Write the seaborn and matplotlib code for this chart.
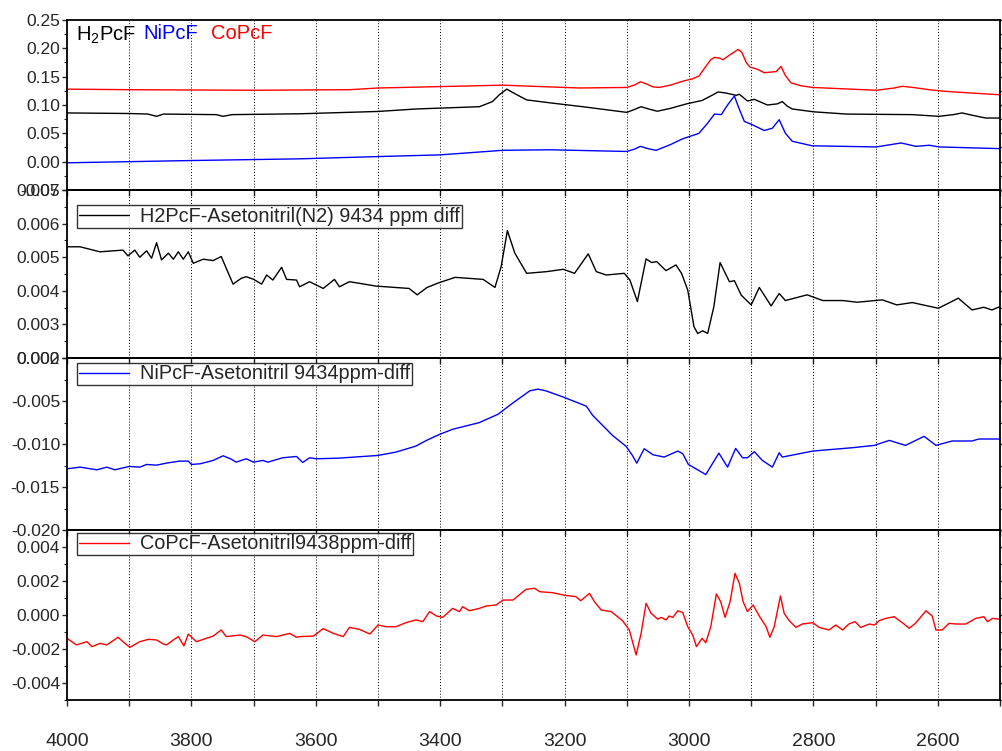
import numpy as np
import pandas as pd
import matplotlib
matplotlib.use("Agg")
import matplotlib.pyplot as plt
from matplotlib.ticker import MultipleLocator, FixedLocator, FuncFormatter
import seaborn as sns

# ---------------- data ----------------
# Panel 1: absorbance spectra (wavenumber, value)
co_wn = [4000, 3900, 3700, 3546, 3500, 3300, 3176, 3100, 3088, 3078, 3068, 3058, 3048, 3030, 3010,
         2995, 2984, 2975, 2965, 2959, 2952, 2945, 2935, 2921, 2915, 2908, 2902, 2890, 2879, 2860,
         2852, 2845, 2836, 2820, 2802, 2699, 2670, 2657, 2640, 2614, 2587, 2500]
co_val = [0.128, 0.127, 0.126, 0.127, 0.130, 0.135, 0.130, 0.131, 0.135, 0.141, 0.137, 0.132, 0.131, 0.135, 0.142,
          0.146, 0.151, 0.165, 0.180, 0.184, 0.183, 0.180, 0.188, 0.198, 0.193, 0.175, 0.167, 0.163, 0.157, 0.159,
          0.168, 0.152, 0.139, 0.134, 0.131, 0.126, 0.130, 0.133, 0.131, 0.127, 0.124, 0.118]

h2_wn = [4000, 3900, 3870, 3856, 3845, 3760, 3749, 3735, 3626, 3500, 3438, 3337, 3316, 3305, 3293, 3280,
         3261, 3225, 3171, 3100, 3088, 3077, 3065, 3051, 3030, 3004, 2979, 2965, 2953, 2940, 2924, 2919,
         2906, 2895, 2874, 2858, 2850, 2842, 2834, 2800, 2747, 2641, 2598, 2575, 2561, 2545, 2523, 2500]
h2_val = [0.086, 0.085, 0.084, 0.080, 0.084, 0.083, 0.080, 0.083, 0.0845, 0.0886, 0.093, 0.097, 0.106, 0.118, 0.128,
          0.120, 0.109, 0.104, 0.097, 0.087, 0.092, 0.097, 0.093, 0.089, 0.094, 0.102, 0.108, 0.116, 0.123, 0.121,
          0.117, 0.119, 0.107, 0.110, 0.100, 0.102, 0.106, 0.098, 0.093, 0.088, 0.084, 0.083, 0.080, 0.083, 0.086,
          0.082, 0.077, 0.077]

ni_wn = [4000, 3800, 3626, 3500, 3400, 3300, 3225, 3100, 3088, 3078, 3066, 3053, 3030, 3011, 2984,
         2970, 2959, 2948, 2938, 2927, 2920, 2911, 2898, 2879, 2866, 2855, 2845, 2834, 2802, 2699,
         2659, 2635, 2614, 2598, 2500]
ni_val = [-0.002, 0.002, 0.005, 0.009, 0.012, 0.020, 0.021, 0.018, 0.022, 0.027, 0.023, 0.020, 0.030, 0.040, 0.050,
          0.068, 0.084, 0.083, 0.100, 0.116, 0.095, 0.071, 0.065, 0.055, 0.059, 0.074, 0.050, 0.036, 0.028, 0.026,
          0.033, 0.027, 0.029, 0.026, 0.023]

# Panel 2: H2PcF difference spectrum
d1_wn = [4000, 3979, 3947, 3926, 3910, 3902, 3891, 3883, 3872, 3864, 3856, 3848, 3837, 3829, 3821, 3813,
         3805, 3797, 3781, 3765, 3752, 3744, 3733, 3720, 3712, 3701, 3687, 3679, 3669, 3655, 3647, 3631,
         3626, 3610, 3588, 3570, 3562, 3546, 3529, 3503, 3450, 3437, 3421, 3402, 3376, 3331, 3312, 3302,
         3292, 3280, 3261, 3229, 3202, 3184, 3162, 3149, 3133, 3104, 3095, 3083, 3069, 3060, 3052, 3037,
         3021, 3012, 3002, 2992, 2986, 2978, 2970, 2960, 2950, 2935, 2927, 2916, 2900, 2887, 2868, 2855,
         2845, 2810, 2785, 2753, 2730, 2689, 2666, 2641, 2599, 2567, 2545, 2526, 2513, 2500]
d1_val = [0.00531, 0.00531, 0.00516, 0.00519, 0.00521, 0.00504, 0.00521, 0.00500, 0.00519, 0.00497, 0.00543,
          0.00492, 0.00512, 0.00494, 0.00516, 0.00494, 0.00516, 0.00482, 0.00494, 0.00490, 0.00502, 0.00467,
          0.00420, 0.00437, 0.00442, 0.00435, 0.00420, 0.00447, 0.00432, 0.00470, 0.00434, 0.00432, 0.00412,
          0.00427, 0.00407, 0.00434, 0.00412, 0.00427, 0.00422, 0.00414, 0.00407, 0.00388, 0.00410, 0.00424,
          0.00440, 0.00434, 0.00410, 0.00472, 0.00579, 0.00512, 0.00452, 0.00457, 0.00464, 0.00452, 0.00510,
          0.00457, 0.00447, 0.00452, 0.00432, 0.00368, 0.00495, 0.00484, 0.00487, 0.00460, 0.00477, 0.00452,
          0.00402, 0.00293, 0.00273, 0.00281, 0.00273, 0.00353, 0.00484, 0.00427, 0.00430, 0.00387, 0.00358,
          0.00410, 0.00355, 0.00392, 0.00371, 0.00388, 0.00371, 0.00371, 0.00366, 0.00373, 0.00358, 0.00365,
          0.00348, 0.00378, 0.00343, 0.00351, 0.00343, 0.00353]

# Panel 3: NiPcF difference spectrum
d2_wn = [4000, 3979, 3952, 3936, 3923, 3900, 3883, 3872, 3856, 3840, 3819, 3805, 3800, 3786, 3765, 3749,
         3736, 3728, 3712, 3700, 3685, 3677, 3653, 3631, 3621, 3610, 3599, 3562, 3500, 3471, 3439, 3422,
         3401, 3380, 3337, 3307, 3283, 3256, 3243, 3230, 3203, 3165, 3155, 3123, 3101, 3091, 3084, 3072,
         3058, 3040, 3018, 3010, 3001, 2973, 2952, 2938, 2925, 2914, 2906, 2895, 2882, 2866, 2855, 2850,
         2801, 2737, 2702, 2678, 2652, 2622, 2603, 2577, 2545, 2534, 2500]
d2_val = [-0.01289, -0.01269, -0.01300, -0.01269, -0.01300, -0.01261, -0.01269, -0.01238, -0.01246, -0.01222,
          -0.01199, -0.01199, -0.01238, -0.01230, -0.01191, -0.01137, -0.01176, -0.01211, -0.01172, -0.01211,
          -0.01191, -0.01211, -0.01160, -0.01145, -0.01215, -0.01160, -0.01172, -0.01164, -0.01133, -0.01094,
          -0.01024, -0.00958, -0.00888, -0.00829, -0.00751, -0.00654, -0.00522, -0.00382, -0.00362, -0.00382,
          -0.00452, -0.00560, -0.00666, -0.00900, -0.01028, -0.01133, -0.01223, -0.01055, -0.01125, -0.01152,
          -0.01082, -0.01113, -0.01238, -0.01355, -0.01106, -0.01269, -0.01051, -0.01160, -0.01160, -0.01090,
          -0.01191, -0.01269, -0.01102, -0.01152, -0.01082, -0.01043, -0.01016, -0.00958, -0.01016, -0.00911,
          -0.01016, -0.00965, -0.00965, -0.00942, -0.00942]

# Panel 4: CoPcF difference spectrum
d3_wn = [4000, 3985, 3968, 3960, 3947, 3936, 3926, 3918, 3910, 3899, 3883, 3869, 3856, 3845, 3840, 3829,
         3821, 3812, 3805, 3792, 3776, 3765, 3752, 3744, 3722, 3712, 3698, 3685, 3663, 3642, 3631, 3626,
         3604, 3588, 3572, 3556, 3546, 3530, 3513, 3500, 3487, 3471, 3455, 3439, 3428, 3417, 3406, 3396,
         3380, 3369, 3364, 3353, 3337, 3326, 3310, 3299, 3283, 3275, 3262, 3248, 3240, 3219, 3200, 3182,
         3174, 3160, 3152, 3141, 3125, 3107, 3096, 3085, 3077, 3069, 3061, 3050, 3045, 3037, 3032, 3026,
         3018, 3010, 3002, 2994, 2988, 2979, 2973, 2965, 2956, 2949, 2942, 2934, 2926, 2919, 2913, 2906,
         2897, 2887, 2876, 2870, 2863, 2853, 2847, 2839, 2828, 2818, 2801, 2791, 2775, 2764, 2753, 2743,
         2733, 2724, 2710, 2702, 2694, 2684, 2670, 2662, 2657, 2646, 2636, 2619, 2609, 2603, 2593, 2582,
         2571, 2555, 2539, 2526, 2520, 2512, 2500]
d3_val = [-0.00137, -0.00176, -0.00157, -0.00186, -0.00167, -0.00176, -0.00151, -0.00131, -0.00157, -0.00190,
          -0.00157, -0.00143, -0.00147, -0.00171, -0.00176, -0.00147, -0.00127, -0.00182, -0.00112, -0.00157,
          -0.00137, -0.00124, -0.00088, -0.00127, -0.00118, -0.00127, -0.00157, -0.00118, -0.00127, -0.00108,
          -0.00131, -0.00127, -0.00124, -0.00080, -0.00108, -0.00127, -0.00073, -0.00084, -0.00112, -0.00059,
          -0.00069, -0.00069, -0.00045, -0.00029, -0.00039, 0.00020, -0.00006, -0.00014, 0.00039, 0.00020,
          0.00049, 0.00025, 0.00039, 0.00053, 0.00059, 0.00088, 0.00088, 0.00112, 0.00151, 0.00157,
          0.00137, 0.00131, 0.00116, 0.00108, 0.00084, 0.00127, 0.00078, 0.00029, 0.00020, -0.00033,
          -0.00088, -0.00235, -0.00108, 0.00069, 0.00010, -0.00025, -0.00014, -0.00029, -0.00006, -0.00014,
          0.00025, 0.00014, -0.00069, -0.00118, -0.00186, -0.00137, -0.00163, -0.00069, 0.00124, 0.00078,
          -0.00014, 0.00078, 0.00245, 0.00186, 0.00078, 0.00020, 0.00059, -0.00006, -0.00069, -0.00131,
          -0.00069, 0.00112, 0.00010, -0.00033, -0.00073, -0.00053, -0.00045, -0.00073, -0.00088, -0.00059,
          -0.00088, -0.00053, -0.00039, -0.00073, -0.00053, -0.00059, -0.00033, -0.00020, -0.00010, -0.00033,
          -0.00045, -0.00078, -0.00049, 0.00025, -0.00006, -0.00088, -0.00088, -0.00049, -0.00053, -0.00053,
          -0.00020, -0.00010, -0.00039, -0.00020, -0.00025]

top_labels = ["H$_{2}$PcF", "NiPcF", "CoPcF"]
legend_labels = ["H2PcF-Asetonitril(N2) 9434 ppm diff",
                 "NiPcF-Asetonitril 9434ppm-diff",
                 "CoPcF-Asetonitril9438ppm-diff"]
x_tick_values = [4000, 3800, 3600, 3400, 3200, 3000, 2800, 2600]

# ---------------- style ----------------
sns.set_style("ticks")
plt.rcParams['font.family'] = ['Liberation Sans', 'DejaVu Sans']
plt.rcParams['mathtext.default'] = 'regular'

fig = plt.figure(figsize=(10.03, 7.51), dpi=100)
L, R = 67 / 1003, 1000 / 1003
px_bounds = [(20, 190), (190, 358), (358, 530), (530, 700)]
axes = []
for top, bot in px_bounds:
    ax = fig.add_axes([L, 1 - bot / 751, R - L, (bot - top) / 751])
    ax.patch.set_alpha(0)
    axes.append(ax)

def style_axis(ax, ylim, minor, yticks, fmt, show_x=False):
    ax.set_xlim(4000, 2500)
    ax.set_ylim(*ylim)
    ax.xaxis.set_major_locator(MultipleLocator(100))
    for xv in range(2600, 4000, 100):
        ax.axvline(xv, color='black', lw=0.7, ls=(0, (1, 2)), zorder=0)
    ax.yaxis.set_major_locator(FixedLocator(yticks))
    ax.yaxis.set_minor_locator(MultipleLocator(minor))
    ax.yaxis.set_major_formatter(FuncFormatter(lambda v, p: fmt.format(0.0) if abs(v) < 1e-12 else fmt.format(v)))
    ax.tick_params(axis='y', which='major', direction='out', length=3.5, width=1, labelsize=12.5, pad=1.5,
                   left=True, right=True)
    ax.tick_params(axis='y', which='minor', direction='out', length=2.2, width=0.8, left=True, right=True)
    ax.tick_params(axis='x', which='major', direction='out', length=4.5, width=1, bottom=True, top=False)
    if show_x:
        ax.xaxis.set_major_formatter(FuncFormatter(lambda v, p: f"{int(round(v))}" if int(round(v)) in x_tick_values else ""))
        ax.tick_params(axis='x', labelsize=14, pad=19)
    else:
        ax.tick_params(axis='x', labelbottom=False)
    for s in ax.spines.values():
        s.set_linewidth(1.3)
        s.set_color('black')
        s.set_visible(True)
    ax.set_xlabel("")
    ax.set_ylabel("")

# Panel 1
ax = axes[0]
for wn, val, col in [(co_wn, co_val, 'red'), (h2_wn, h2_val, 'black'), (ni_wn, ni_val, 'blue')]:
    sns.lineplot(x=wn, y=val, color=col, lw=1.0, ax=ax, estimator=None, sort=False)
style_axis(ax, (-0.05, 0.25), 0.025, [-0.05, 0.0, 0.05, 0.10, 0.15, 0.20, 0.25], "{:.2f}")
ax.text(0.010, 0.975, top_labels[0], transform=ax.transAxes, color='black', fontsize=14.5, va='top', ha='left')
ax.text(0.0815, 0.975, top_labels[1], transform=ax.transAxes, color='blue', fontsize=14.5, va='top', ha='left')
ax.text(0.154, 0.975, top_labels[2], transform=ax.transAxes, color='red', fontsize=14.5, va='top', ha='left')

def add_legend(ax, label, col, top_frac):
    h, = ax.plot([], [], color=col, lw=1.0)
    leg = ax.legend([h], [label], loc='upper left', bbox_to_anchor=(0.011, top_frac),
                    borderaxespad=0, frameon=True, fancybox=False, fontsize=14.3,
                    handlelength=2.5, handletextpad=0.55, borderpad=0.1)
    leg.get_frame().set_edgecolor('black')
    leg.get_frame().set_linewidth(1.0)

# Panel 2
ax = axes[1]
sns.lineplot(x=d1_wn, y=d1_val, color='black', lw=1.0, ax=ax, estimator=None, sort=False)
style_axis(ax, (0.002, 0.007), 0.0005, [0.002, 0.003, 0.004, 0.005, 0.006, 0.007], "{:.3f}")
add_legend(ax, legend_labels[0], 'black', 1 - 15 / 168)

# Panel 3
ax = axes[2]
sns.lineplot(x=d2_wn, y=d2_val, color='blue', lw=1.0, ax=ax, estimator=None, sort=False)
style_axis(ax, (-0.020, 0.000), 0.0025, [-0.020, -0.015, -0.010, -0.005, 0.000], "{:.3f}")
add_legend(ax, legend_labels[1], 'blue', 1 - 4.5 / 172)

# Panel 4
ax = axes[3]
sns.lineplot(x=d3_wn, y=d3_val, color='red', lw=1.0, ax=ax, estimator=None, sort=False)
style_axis(ax, (-0.005, 0.005), 0.001, [-0.004, -0.002, 0.000, 0.002, 0.004], "{:.3f}", show_x=True)
add_legend(ax, legend_labels[2], 'red', 1 - 2.5 / 170)

fig.savefig("out.png", dpi=100)
